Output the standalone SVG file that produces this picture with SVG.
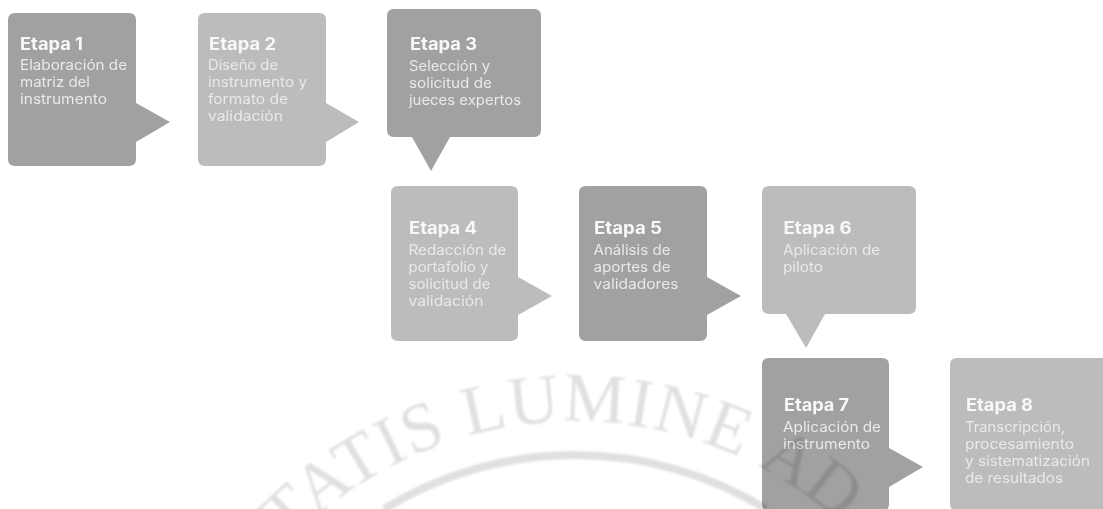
<svg xmlns="http://www.w3.org/2000/svg" width="1103" height="509" viewBox="0 0 1103 509">
<style>
.d{fill:#a1a1a1;filter:url(#soft)}
.l{fill:#bcbcbc;filter:url(#soft)}
text{font-family:"Inter","Open Sans","Liberation Sans",sans-serif}
.txt{filter:url(#soft)}
.t{font-size:17px;font-weight:700;fill:#f8f8f8}
.b{font-size:14px;font-weight:400;fill:#e9e9e9}
.wm{font-family:"Liberation Serif",serif;font-size:70px;fill:#000;fill-opacity:.12}
</style>
<defs>
<filter id="soft" x="-5%" y="-5%" width="110%" height="110%"><feGaussianBlur stdDeviation="0.55"/></filter>
<filter id="soft2" x="-5%" y="-5%" width="110%" height="110%"><feGaussianBlur stdDeviation="0.9"/></filter>
<path id="wmArc" d="M230 621A398 398 0 0 1 920 621"/>
</defs>
<rect width="1103" height="509" fill="#fff"/>
<g id="node1">
<path class="d" d="M15 13H129Q136 13 136 20V103L170 122L136 142V159Q136 166 129 166H15Q8 166 8 159V20Q8 13 15 13Z"/>
<g class="txt">
<text class="t" x="20" y="50" textLength="63" lengthAdjust="spacingAndGlyphs">Etapa 1</text>
<text class="b" x="20" y="70" textLength="107" lengthAdjust="spacingAndGlyphs">Elaboración de</text>
<text class="b" x="20" y="87" textLength="70" lengthAdjust="spacingAndGlyphs">matriz del</text>
<text class="b" x="20" y="104" textLength="87" lengthAdjust="spacingAndGlyphs">instrumento</text>
</g>
</g>
<g id="node2">
<path class="l" d="M205 13H319Q326 13 326 20V103L359 122L326 142V159Q326 166 319 166H205Q198 166 198 159V20Q198 13 205 13Z"/>
<g class="txt">
<text class="t" x="209" y="50" textLength="67" lengthAdjust="spacingAndGlyphs">Etapa 2</text>
<text class="b" x="208" y="70" textLength="70" lengthAdjust="spacingAndGlyphs">Diseño de</text>
<text class="b" x="208" y="87" textLength="99" lengthAdjust="spacingAndGlyphs">instrumento y</text>
<text class="b" x="208" y="104" textLength="80" lengthAdjust="spacingAndGlyphs">formato de</text>
<text class="b" x="208" y="121" textLength="75" lengthAdjust="spacingAndGlyphs">validación</text>
</g>
</g>
<g id="node3">
<path class="d" d="M394 9H534Q541 9 541 16V130Q541 137 534 137H450L431 171L412 137H394Q387 137 387 130V16Q387 9 394 9Z"/>
<g class="txt">
<text class="t" x="410" y="50" textLength="67" lengthAdjust="spacingAndGlyphs">Etapa 3</text>
<text class="b" x="409" y="71" textLength="81" lengthAdjust="spacingAndGlyphs">Selección y</text>
<text class="b" x="409" y="88" textLength="83" lengthAdjust="spacingAndGlyphs">solicitud de</text>
<text class="b" x="409" y="105" textLength="112" lengthAdjust="spacingAndGlyphs">jueces expertos</text>
</g>
</g>
<g id="node4">
<path class="l" d="M398 186H511Q518 186 518 193V277L552 296L518 315V334Q518 341 511 341H398Q391 341 391 334V193Q391 186 398 186Z"/>
<g class="txt">
<text class="t" x="409" y="234" textLength="68" lengthAdjust="spacingAndGlyphs">Etapa 4</text>
<text class="b" x="408.500" y="255" textLength="98" lengthAdjust="spacingAndGlyphs">Redacción de</text>
<text class="b" x="408.500" y="272" textLength="80" lengthAdjust="spacingAndGlyphs">portafolio y</text>
<text class="b" x="408.500" y="289" textLength="82" lengthAdjust="spacingAndGlyphs">solicitud de</text>
<text class="b" x="408.500" y="306" textLength="75" lengthAdjust="spacingAndGlyphs">validación</text>
</g>
</g>
<g id="node5">
<path class="d" d="M586 186H700Q707 186 707 193V277L741 296L707 315V334Q707 341 700 341H586Q579 341 579 334V193Q579 186 586 186Z"/>
<g class="txt">
<text class="t" x="594" y="234" textLength="68" lengthAdjust="spacingAndGlyphs">Etapa 5</text>
<text class="b" x="593.500" y="255" textLength="77" lengthAdjust="spacingAndGlyphs">Análisis de</text>
<text class="b" x="593.500" y="272" textLength="77" lengthAdjust="spacingAndGlyphs">aportes de</text>
<text class="b" x="593.500" y="289" textLength="85" lengthAdjust="spacingAndGlyphs">validadores</text>
</g>
</g>
<g id="node6">
<path class="l" d="M769 186H909Q916 186 916 193V307Q916 314 909 314H825L806 348L786 314H769Q762 314 762 307V193Q762 186 769 186Z"/>
<g class="txt">
<text class="t" x="783.500" y="234" textLength="68" lengthAdjust="spacingAndGlyphs">Etapa 6</text>
<text class="b" x="783" y="255" textLength="97" lengthAdjust="spacingAndGlyphs">Aplicación de</text>
<text class="b" x="783" y="272" textLength="40" lengthAdjust="spacingAndGlyphs">piloto</text>
</g>
</g>
<g id="node7">
<path class="d" d="M769 358H882Q889 358 889 365V448L923 467L889 487V504Q889 511 882 511H769Q762 511 762 504V365Q762 358 769 358Z"/>
<g class="txt">
<text class="t" x="784" y="411" textLength="65" lengthAdjust="spacingAndGlyphs">Etapa 7</text>
<text class="b" x="783" y="432" textLength="98" lengthAdjust="spacingAndGlyphs">Aplicación de</text>
<text class="b" x="783" y="449" textLength="87" lengthAdjust="spacingAndGlyphs">instrumento</text>
</g>
</g>
<g id="node8">
<path class="l" d="M957 358H1106V511H957Q950 511 950 504V365Q950 358 957 358Z"/>
<g class="txt">
<text class="t" x="966" y="411" textLength="67" lengthAdjust="spacingAndGlyphs">Etapa 8</text>
<text class="b" x="965" y="432" textLength="100" lengthAdjust="spacingAndGlyphs">Transcripción,</text>
<text class="b" x="965" y="449" textLength="109" lengthAdjust="spacingAndGlyphs">procesamiento</text>
<text class="b" x="965" y="466" textLength="125" lengthAdjust="spacingAndGlyphs">y sistematización</text>
<text class="b" x="965" y="483" textLength="98" lengthAdjust="spacingAndGlyphs">de resultados</text>
</g>
</g>
<g id="watermark" filter="url(#soft2)">
<text class="wm" letter-spacing="1.5"><textPath href="#wmArc" startOffset="97">TATIS LUMINE</textPath></text>
<text class="wm"><textPath href="#wmArc" startOffset="606">AD</textPath></text>
<path d="M384 509A365 365 0 0 1 766 509" fill="none" stroke="#000" stroke-opacity=".12" stroke-width="8"/>
</g>
</svg>
